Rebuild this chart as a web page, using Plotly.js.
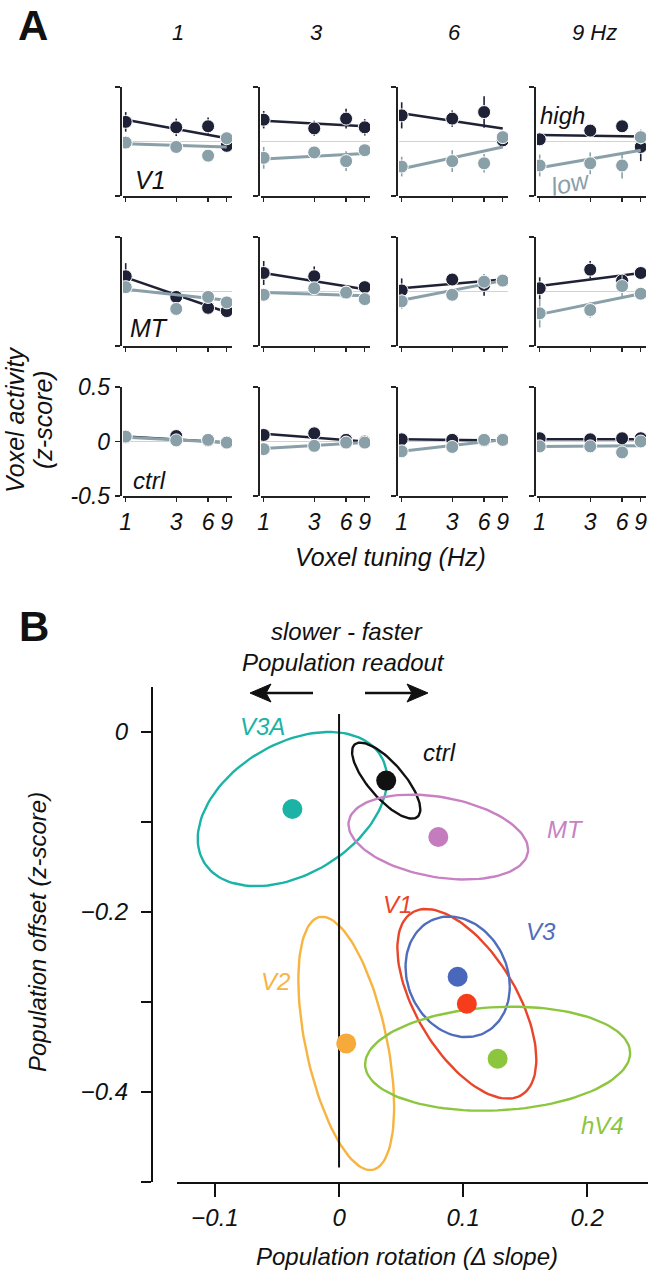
<!DOCTYPE html>
<html>
<head>
<meta charset="utf-8">
<script src="https://cdn.plot.ly/plotly-3.0.1.min.js"></script>
<style>html,body{margin:0;padding:0;background:#fff;}#chart{width:670px;height:1280px;}</style>
</head>
<body>
<div id="chart"></div>
<script>
// ---------------- DATA ----------------
// Panel A: voxel tuning (Hz) and stimulus temporal frequency columns
const tuning = [1, 3, 6, 9];
const tuningLabels = ['1', '3', '6', '9'];
const stimFreqLabels = ['1', '3', '6', '9 Hz'];
const regionsA = ['V1', 'MT', 'ctrl'];

// mean voxel activity (z-score); [stimulus column][voxel tuning]
const v1High = [[0.18, 0.13, 0.14, -0.04], [0.20, 0.12, 0.21, 0.13], [0.24, 0.21, 0.27, 0.01], [0.02, 0.10, 0.14, -0.05]];
const v1Low  = [[-0.01, -0.05, -0.13, 0.03], [-0.15, -0.10, -0.18, -0.08], [-0.23, -0.18, -0.20, 0.04], [-0.22, -0.20, -0.22, 0.04]];
const mtHigh = [[0.14, -0.05, -0.15, -0.18], [0.17, 0.14, -0.01, 0.04], [0.01, 0.11, 0.06, 0.10], [0.03, 0.20, 0.10, 0.17]];
const mtLow  = [[0.04, -0.16, -0.05, -0.10], [-0.03, 0.03, -0.01, -0.07], [-0.09, -0.03, 0.09, 0.10], [-0.20, -0.17, 0.05, -0.02]];
const ctrlHigh = [[0.04, 0.05, 0.01, -0.01], [0.06, 0.075, 0.015, 0.0], [0.02, 0.015, 0.01, 0.015], [0.03, 0.02, 0.03, 0.03]];
const ctrlLow  = [[0.045, 0.01, 0.015, -0.01], [-0.07, -0.04, -0.01, -0.01], [-0.09, -0.05, 0.015, 0.015], [-0.045, -0.045, -0.10, 0.0]];

// error bar half-lengths
const v1HighErr = [[0.09, 0.08, 0.08, 0.03], [0.08, 0.07, 0.09, 0.075], [0.12, 0.075, 0.145, 0.04], [0.03, 0.04, 0.06, 0.13]];
const v1LowErr  = [[0.03, 0.03, 0.03, 0.03], [0.10, 0.04, 0.09, 0.04], [0.09, 0.10, 0.085, 0.04], [0.10, 0.10, 0.12, 0.07]];
const mtHighErr = [[0.12, 0.04, 0.06, 0.06], [0.11, 0.09, 0.04, 0.04], [0.11, 0.04, 0.10, 0.03], [0.10, 0.08, 0.05, 0.04]];
const mtLowErr  = [[0.04, 0.03, 0.03, 0.03], [0.05, 0.03, 0.03, 0.03], [0.07, 0.03, 0.07, 0.04], [0.13, 0.07, 0.10, 0.04]];
const ctrlHighErr = [[0.02, 0.02, 0.02, 0.02], [0.03, 0.03, 0.02, 0.02], [0.02, 0.02, 0.02, 0.02], [0.02, 0.02, 0.02, 0.02]];
const ctrlLowErr  = [[0.02, 0.02, 0.02, 0.02], [0.03, 0.02, 0.02, 0.02], [0.03, 0.02, 0.02, 0.02], [0.02, 0.02, 0.03, 0.02]];

// regression line values at tuning 1 and 9 Hz
const v1HighFit = [[0.20, 0.03], [0.19, 0.14], [0.26, 0.12], [0.06, 0.045]];
const v1LowFit  = [[-0.02, -0.05], [-0.16, -0.11], [-0.25, -0.05], [-0.24, -0.08]];
const mtHighFit = [[0.13, -0.19], [0.17, 0.02], [0.03, 0.11], [0.05, 0.17]];
const mtLowFit  = [[0.02, -0.08], [-0.01, -0.04], [-0.08, 0.10], [-0.21, -0.02]];
const ctrlHighFit = [[0.045, -0.01], [0.07, 0.0], [0.02, 0.01], [0.02, 0.02]];
const ctrlLowFit  = [[0.04, -0.01], [-0.065, -0.01], [-0.09, 0.015], [-0.045, -0.04]];

// Panel B: population rotation / offset with confidence ellipses
const regionsB  = ['V3A', 'ctrl', 'MT', 'V2', 'V1', 'V3', 'hV4'];
const rotation  = [-0.0376, 0.038, 0.080, 0.0058, 0.103, 0.0956, 0.1278];
const offset    = [-0.0856, -0.054, -0.1167, -0.346, -0.302, -0.272, -0.363];
const ellHalfW  = [0.0763, 0.0275, 0.0724, 0.0386, 0.056, 0.042, 0.1068];
const ellHalfH  = [0.0857, 0.0422, 0.0472, 0.1407, 0.1054, 0.067, 0.0578];
const ellDyRight = [0.033, -0.0319, -0.0141, -0.0704, -0.0619, -0.011, 0.0063];
const rotTicks = [-0.1, 0, 0.1, 0.2];
const rotTickText = ['\u22120.1', '0', '0.1', '0.2'];
const offTicks = [-0.5, -0.4, -0.3, -0.2, -0.1, 0];
const offTickText = ['', '\u22120.4', '', '\u22120.2', '', '0'];
const zeroRefY = [0.02, -0.484];

// ---------------- STYLE ----------------
const W = 670, H = 1280;
const FONT = 'Liberation Sans, Arial, Helvetica, sans-serif';
const DARK = '#1f2237', LIGHT = '#8aa0a9';
const colorsB = ['#1ab3a6', '#111111', '#c882c3', '#f7b441', '#e9452a', '#4f6dbd', '#8cc63f'];
const dotColorsB = ['#1ab3a6', '#111111', '#c47cbf', '#f5aa3a', '#f53d1c', '#4a68bb', '#8cc63f'];
const labelPosB = {
  'V3A': [-0.0614, 0.006], 'ctrl': [0.081, -0.0226], 'MT': [0.1827, -0.1078],
  'V1': [0.047, -0.192], 'V3': [0.1624, -0.2222], 'V2': [-0.0512, -0.277], 'hV4': [0.2122, -0.4374]
};
function px(x) { return x / W; }
function py(y) { return 1 - y / H; }
const rowTop = [87, 237, 387], rowBot = [196, 346, 496];
const colStep = 138;

const traces = [];
const layout = {
  width: W, height: H, margin: {l: 0, r: 0, t: 0, b: 0},
  paper_bgcolor: '#fff', plot_bgcolor: 'rgba(0,0,0,0)',
  showlegend: false, hovermode: false,
  font: {family: FONT, color: '#111'},
  annotations: [], shapes: []
};

const rowsData = [
  {h: v1High, l: v1Low, he: v1HighErr, le: v1LowErr, hf: v1HighFit, lf: v1LowFit},
  {h: mtHigh, l: mtLow, he: mtHighErr, le: mtLowErr, hf: mtHighFit, lf: mtLowFit},
  {h: ctrlHigh, l: ctrlLow, he: ctrlHighErr, le: ctrlLowErr, hf: ctrlHighFit, lf: ctrlLowFit}
];
const fitX = [tuning[0], tuning[tuning.length - 1]];

for (let r = 0; r < 3; r++) {
  for (let c = 0; c < 4; c++) {
    const idx = r * 4 + c + 1;
    const xn = idx === 1 ? '' : String(idx);
    const xa = 'x' + xn, ya = 'y' + xn;
    const d = rowsData[r];
    traces.push({x: fitX, y: d.hf[c], xaxis: xa, yaxis: ya, mode: 'lines', line: {color: DARK, width: 2.5}});
    traces.push({x: tuning, y: d.h[c], xaxis: xa, yaxis: ya, mode: 'markers',
      marker: {color: DARK, size: 13, line: {color: '#fff', width: 1}},
      error_y: {type: 'data', array: d.he[c], visible: true, color: DARK, thickness: 1.6, width: 0}});
    traces.push({x: fitX, y: d.lf[c], xaxis: xa, yaxis: ya, mode: 'lines', line: {color: LIGHT, width: 3}});
    traces.push({x: tuning, y: d.l[c], xaxis: xa, yaxis: ya, mode: 'markers',
      marker: {color: LIGHT, size: 13, line: {color: '#fff', width: 1}},
      error_y: {type: 'data', array: d.le[c], visible: true, color: LIGHT, thickness: 1.6, width: 0}});

    const yAxisX = 120.7 + colStep * c;
    layout['xaxis' + xn] = {
      type: 'log', range: [-0.0255, 1.0038],
      domain: [px(123 + colStep * c), px(232 + colStep * c)], anchor: ya,
      showline: true, linecolor: '#222', linewidth: 2,
      ticks: 'outside', ticklen: 4, tickwidth: 1.4, tickcolor: '#222',
      tickvals: tuning, ticktext: tuningLabels, showticklabels: r === 2,
      tickfont: {family: FONT, size: 23, style: 'italic', color: '#111'},
      showgrid: false, zeroline: false, fixedrange: true
    };
    const showY = (r === 2 && c === 0);
    layout['yaxis' + xn] = {
      range: [-0.5, 0.5], domain: [py(rowBot[r]), py(rowTop[r])],
      anchor: 'free', position: px(yAxisX),
      showline: true, linecolor: '#222', linewidth: 2,
      ticks: 'outside', ticklen: 5, tickwidth: 1.4, tickcolor: '#222',
      tickvals: showY ? [-0.5, 0, 0.5] : [-0.5, 0.5],
      ticktext: showY ? ['-0.5', '0', '0.5'] : ['', ''],
      showticklabels: showY,
      tickfont: {family: FONT, size: 23, style: 'italic', color: '#111'},
      showgrid: false, zeroline: true, zerolinecolor: '#d2d2d2', zerolinewidth: 1, fixedrange: true
    };
  }
}

// Panel B
for (let i = 0; i < regionsB.length; i++) {
  const W_ = ellHalfW[i], H_ = ellHalfH[i], dy = ellDyRight[i];
  const l22 = Math.sqrt(Math.max(H_ * H_ - dy * dy, 1e-9));
  const ex = [], ey = [];
  for (let k = 0; k <= 120; k++) {
    const t = 2 * Math.PI * k / 120;
    ex.push(rotation[i] + W_ * Math.cos(t));
    ey.push(offset[i] + dy * Math.cos(t) + l22 * Math.sin(t));
  }
  traces.push({x: ex, y: ey, xaxis: 'x13', yaxis: 'y13', mode: 'lines', line: {color: colorsB[i], width: 2.4}});
}
traces.push({x: [0, 0], y: zeroRefY, xaxis: 'x13', yaxis: 'y13', mode: 'lines', line: {color: '#111', width: 2}});
for (let i = 0; i < regionsB.length; i++) {
  traces.push({x: [rotation[i]], y: [offset[i]], xaxis: 'x13', yaxis: 'y13', mode: 'markers',
    marker: {color: dotColorsB[i], size: 20}});
  const lp = labelPosB[regionsB[i]];
  layout.annotations.push({x: lp[0], y: lp[1], xref: 'x13', yref: 'y13', text: regionsB[i], showarrow: false,
    font: {family: FONT, size: 24, style: 'italic', color: colorsB[i]}});
}
layout.xaxis13 = {
  domain: [px(177), px(648)], range: [-0.1306, 0.249], anchor: 'y13',
  showline: true, linecolor: '#111', linewidth: 2,
  ticks: 'outside', ticklen: 13, tickwidth: 2, tickcolor: '#111',
  tickvals: rotTicks, ticktext: rotTickText,
  tickfont: {family: FONT, size: 24, style: 'italic', color: '#111'},
  showgrid: false, zeroline: false, fixedrange: true
};
layout.yaxis13 = {
  domain: [py(1182), py(687)], range: [-0.5, 0.05], anchor: 'free', position: px(152),
  showline: true, linecolor: '#111', linewidth: 2,
  ticks: 'outside', ticklen: 10, tickwidth: 2, tickcolor: '#111',
  tickvals: offTicks, ticktext: offTickText, ticklabelstandoff: 8,
  tickfont: {family: FONT, size: 24, style: 'italic', color: '#111'},
  showgrid: false, zeroline: false, fixedrange: true
};

// Text annotations (paper)
function addText(text, x, y, size, opts) {
  opts = opts || {};
  layout.annotations.push(Object.assign({
    text: text, x: px(x), y: py(y), xref: 'paper', yref: 'paper', showarrow: false,
    xanchor: 'center', yanchor: 'middle',
    font: {family: FONT, size: size, style: opts.style || 'italic', weight: opts.weight || 'normal', color: opts.color || '#111'}
  }, opts.extra || {}));
}
addText('A', 33, 25, 42, {style: 'normal', weight: 'bold'});
addText('B', 34, 626, 42, {style: 'normal', weight: 'bold'});
for (let c = 0; c < 4; c++) addText(stimFreqLabels[c], 178 + colStep * c + (c === 3 ? 2 : 0), 32, 22);
addText(regionsA[0], 150, 180, 25);
addText(regionsA[1], 149, 328, 25);
addText(regionsA[2], 149, 480, 24);
addText('high', 562, 116, 24);
addText('low', 570, 183, 25, {color: LIGHT, extra: {textangle: -12}});
addText('Voxel activity', 15, 420, 25, {extra: {textangle: -90}});
addText('(z-score)', 43, 420, 25, {extra: {textangle: -90}});
addText('Voxel tuning (Hz)', 390, 557, 25);
addText('slower - faster', 347, 631, 24);
addText('Population readout', 343, 662, 24);
addText('Population offset (z-score)', 37, 932, 24, {extra: {textangle: -90}});
addText('Population rotation (\u0394 slope)', 407, 1256, 24);

// arrows
function pathPaper(pts) {
  return 'M' + pts.map(p => px(p[0]) + ',' + py(p[1])).join('L') + 'Z';
}
layout.shapes.push({type: 'line', xref: 'paper', yref: 'paper', x0: px(313), y0: py(693), x1: px(262), y1: py(693), line: {color: '#111', width: 2.5}});
layout.shapes.push({type: 'path', xref: 'paper', yref: 'paper', path: pathPaper([[250, 693], [271, 684], [266, 693], [271, 702]]), fillcolor: '#111', line: {color: '#111', width: 1}});
layout.shapes.push({type: 'line', xref: 'paper', yref: 'paper', x0: px(365), y0: py(693), x1: px(416), y1: py(693), line: {color: '#111', width: 2.5}});
layout.shapes.push({type: 'path', xref: 'paper', yref: 'paper', path: pathPaper([[428, 693], [407, 684], [412, 693], [407, 702]]), fillcolor: '#111', line: {color: '#111', width: 1}});

Plotly.newPlot('chart', traces, layout, {staticPlot: true, displayModeBar: false});
</script>
</body>
</html>
